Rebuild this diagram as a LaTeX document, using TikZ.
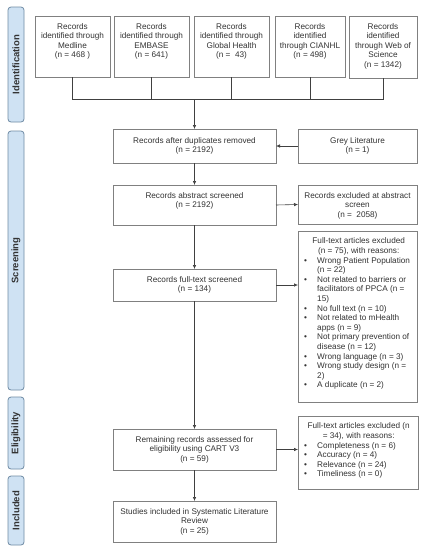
\documentclass[tikz,border=0pt]{standalone}
\usepackage{fontspec}
\setmainfont{Liberation Sans}
\usetikzlibrary{arrows.meta}
\definecolor{barfill}{HTML}{CFE2F3}
\definecolor{bardraw}{HTML}{6F8BA4}
\definecolor{boxdraw}{HTML}{808080}
\definecolor{linecol}{HTML}{404040}
\definecolor{txtcol}{HTML}{333333}
\begin{document}
\begin{tikzpicture}[x=1pt,y=-1pt,
  font=\fontsize{8.2}{9.6}\selectfont, text=txtcol,
  box/.style={draw=boxdraw, line width=0.8pt, inner sep=0pt, outer sep=0pt},
  txt/.style={anchor=north, align=center, inner sep=0pt},
  lst/.style={anchor=north west, inner sep=0pt},
  bar/.style={draw=bardraw, fill=barfill, rounded corners=3pt, line width=0.8pt,
    rotate=90, font=\fontsize{9.5}{10}\selectfont\bfseries, inner sep=0pt, minimum height=16pt},
  conn/.style={draw=linecol, line width=0.6pt},
  arr/.style={conn, -{Latex[length=4pt,width=3.5pt]}}
]
\fill[white] (0,0) rectangle (426,550);
\useasboundingbox (0,0) rectangle (426,550);

% side bars
\node[bar, minimum width=115pt] (bI) at (16,64.5) {Identification};
\node[bar, minimum width=259pt] (bS) at (16,260.5) {Screening};
\node[bar, minimum width=72pt] (bE) at (16,433) {Eligibility};
\node[bar, minimum width=69pt] (bN) at (16,510.5) {Included};

% top boxes
\node[box, minimum width=75pt, minimum height=61pt] (m1) at (72.5,46.5) {};
\node[box, minimum width=75pt, minimum height=61pt] (m2) at (151.5,46.5) {};
\node[box, minimum width=75pt, minimum height=61pt] (m3) at (231.5,46.5) {};
\node[box, minimum width=70pt, minimum height=61pt] (m4) at (310,46.5) {};
\node[box, minimum width=68pt, minimum height=62pt] (m5) at (383,47) {};
\node[txt] (m1t) at ([yshift=-7pt]m1.north) {Records\\identified through\\Medline\\(n = 468 )};
\node[txt] (m2t) at ([yshift=-7pt]m2.north) {Records\\identified through\\EMBASE\\(n = 641)};
\node[txt] (m3t) at ([yshift=-7pt]m3.north) {Records\\identified through\\Global Health\\(n = \ 43)};
\node[txt] (m4t) at ([yshift=-7pt]m4.north) {Records\\identified\\through CIANHL\\(n = 498)};
\node[txt] (m5t) at ([yshift=-7pt]m5.north) {Records\\identified\\through Web of\\Science\\(n = 1342)};

% main column
\node[box, minimum width=163pt, minimum height=34pt] (dup) at (194.5,146) {};
\node[txt] (dupt) at ([yshift=-8pt]dup.north) {Records after duplicates removed\\(n = 2192)};
\node[box, minimum width=119pt, minimum height=34pt] (grey) at (357.5,146) {};
\node[txt] (greyt) at ([yshift=-8pt]grey.north) {Grey Literature\\(n = 1)};

\node[box, minimum width=163pt, minimum height=40pt] (abs) at (194.5,205) {};
\node[txt] (abst) at ([yshift=-7pt]abs.north) {Records abstract screened\\(n = 2192)};
\node[box, minimum width=119pt, minimum height=39pt] (ex1) at (357.5,204.5) {};
\node[txt] (ex1t) at ([yshift=-7pt]ex1.north) {Records excluded at abstract\\screen\\(n = \ 2058)};

\node[box, minimum width=163pt, minimum height=32pt] (ft) at (194.5,285) {};
\node[txt] (ftt) at ([yshift=-7pt]ft.north) {Records full-text screened\\(n = 134)};
\node[box, minimum width=119pt, minimum height=171pt] (ex2) at (357.5,316.5) {};
\node[lst] (ex2t) at ([xshift=4pt,yshift=-6pt]ex2.north west) {%
\begin{tabular}{@{\hspace{2pt}}p{13pt}@{}p{98pt}@{}}
\multicolumn{2}{@{}c@{}}{Full-text articles excluded}\\
\multicolumn{2}{@{}c@{}}{(n = 75), with reasons:}\\
\textbullet & Wrong Patient Population\\
 & (n = 22)\\
\textbullet & Not related to barriers or\\
 & facilitators of PPCA (n =\\
 & 15)\\
\textbullet & No full text (n = 10)\\
\textbullet & Not related to mHealth\\
 & apps (n = 9)\\
\textbullet & Not primary prevention of\\
 & disease (n = 12)\\
\textbullet & Wrong language (n = 3)\\
\textbullet & Wrong study design (n =\\
 & 2)\\
\textbullet & A duplicate (n = 2)
\end{tabular}};

\node[box, minimum width=163pt, minimum height=41pt] (rem) at (194.5,449.5) {};
\node[txt] (remt) at ([yshift=-7pt]rem.north) {Remaining records assessed for\\eligibility using CART V3\\(n = 59)};
\node[box, minimum width=120pt, minimum height=73pt] (ex3) at (358,452.5) {};
\node[lst] (ex3t) at ([xshift=4pt,yshift=-6pt]ex3.north west) {%
\begin{tabular}{@{\hspace{2pt}}p{13pt}@{}p{98pt}@{}}
\multicolumn{2}{@{}c@{}}{Full-text articles excluded (n}\\
\multicolumn{2}{@{}c@{}}{= 34), with reasons:}\\
\textbullet & Completeness (n = 6)\\
\textbullet & Accuracy (n = 4)\\
\textbullet & Relevance (n = 24)\\
\textbullet & Timeliness (n = 0)
\end{tabular}};

\node[box, minimum width=163pt, minimum height=41pt] (inc) at (194.5,521.5) {};
\node[txt] (inct) at ([yshift=-7pt]inc.north) {Studies included in Systematic Literature\\Review\\(n = 25)};

% connectors
\coordinate (j) at (194.5,99);
\draw[conn] (m1.south) -- (m1.south |- j) -- (m5.south |- j) -- (m5.south);
\draw[conn] (m2.south) -- (m2.south |- j);
\draw[conn] (m3.south) -- (m3.south |- j);
\draw[conn] (m4.south) -- (m4.south |- j);
\draw[arr] (j) -- (dup.north);
\draw[arr] (grey.west) -- (dup.east);
\draw[arr] (dup.south) -- (abs.north);
\draw[arr] (abs.east) -- (ex1.west);
\draw[arr] (abs.south) -- (ft.north);
\draw[arr] (ft.east) -- (ft.east -| ex2.west);
\draw[arr] (ft.south) -- (rem.north);
\draw[arr] (rem.east) -- (rem.east -| ex3.west);
\draw[arr] (rem.south) -- (inc.north);
\end{tikzpicture}
\end{document}
